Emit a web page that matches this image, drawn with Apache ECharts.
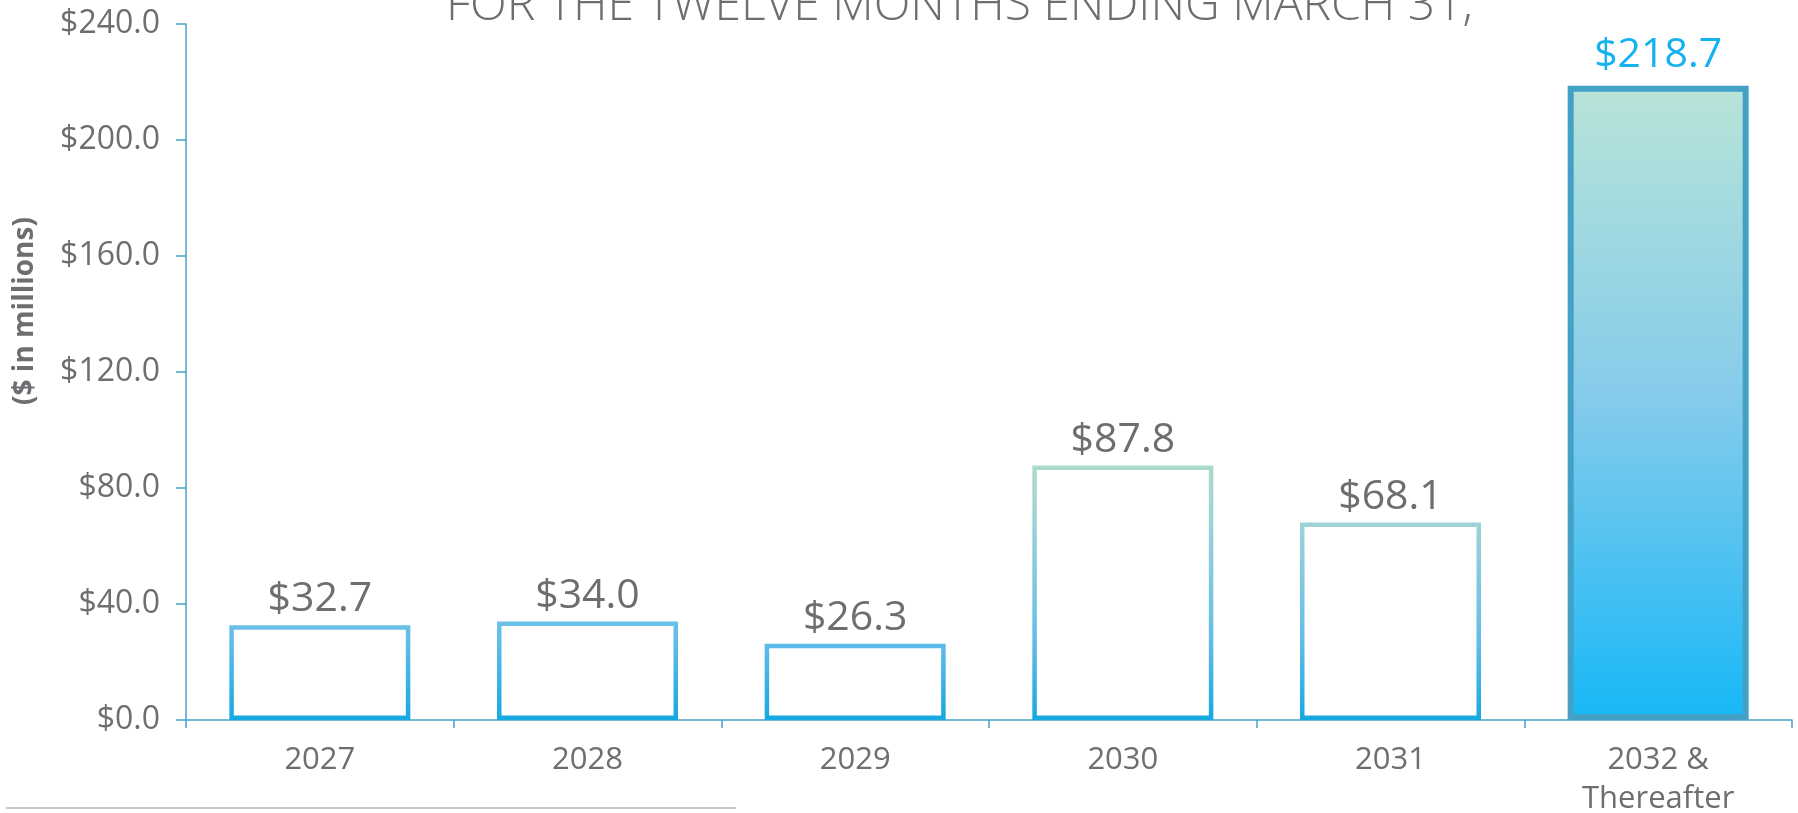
<!DOCTYPE html>
<html>
<head>
<meta charset="utf-8">
<script src="https://cdn.jsdelivr.net/npm/echarts@6/dist/echarts.min.js"></script>
<style>
html,body{margin:0;padding:0;background:#fff;}
#chart{width:1798px;height:813px;}
</style>
</head>
<body>
<div id="chart"></div>
<script>
const categories = ['2027', '2028', '2029', '2030', '2031', '2032 &\nThereafter'];
const values = [32.7, 34.0, 26.3, 87.8, 68.1, 218.7];
const yTicks = { min: 0, max: 240, interval: 40 };
const titleText = 'FOR THE TWELVE MONTHS ENDING MARCH 31,';
const yAxisTitle = '($ in millions)';

const lastIdx = values.length - 1;
const outlineData = values.map((v, i) => (i < lastIdx ? v : '-'));
const filledData = values.map((v, i) => (i === lastIdx ? v : '-'));

const gray = '#6d6e71';
const axisBlue = '#4aa3c8';
const font = "'Open Sans', 'DejaVu Sans', sans-serif";

const chart = echarts.init(document.getElementById('chart'));

const outlineGrad = new echarts.graphic.LinearGradient(0, 460, 0, 722, [
  { offset: 0, color: '#aadccb' },
  { offset: 0.22, color: '#9fd4d6' },
  { offset: 0.62, color: '#6cc0e8' },
  { offset: 0.72, color: '#5bbbe8' },
  { offset: 1, color: '#14a8e1' }
], true);

const fillGrad = new echarts.graphic.LinearGradient(0, 0, 0, 1, [
  { offset: 0, color: '#b8e4d8' },
  { offset: 0.5, color: '#84cbeb' },
  { offset: 1, color: '#17b8f7' }
]);

chart.setOption({
  animation: false,
  backgroundColor: '#fff',
  title: {
    text: titleText,
    left: 441,
    top: -23,
    textStyle: { fontFamily: font, fontSize: 48, fontWeight: 300, color: gray }
  },
  grid: { left: 186, right: 6, top: 24, bottom: 93, containLabel: false, outerBoundsMode: 'none' },
  xAxis: {
    type: 'category',
    data: categories,
    axisLine: { show: true, lineStyle: { color: axisBlue, width: 1.5 } },
    axisTick: { show: true, length: 8, alignWithLabel: false, lineStyle: { color: axisBlue, width: 1.5 } },
    axisLabel: { color: gray, fontFamily: font, fontSize: 31, lineHeight: 39, margin: 21, interval: 0 },
    splitLine: { show: false }
  },
  yAxis: {
    type: 'value',
    min: yTicks.min,
    max: yTicks.max,
    interval: yTicks.interval,
    axisLine: { show: true, lineStyle: { color: axisBlue, width: 1.5 } },
    axisTick: { show: true, length: 10, lineStyle: { color: axisBlue, width: 1.5 } },
    axisLabel: {
      color: gray, fontFamily: font, fontSize: 32, margin: 26,
      formatter: v => '$' + v.toFixed(1)
    },
    splitLine: { show: false }
  },
  series: [
    {
      type: 'bar',
      data: outlineData,
      barWidth: 181,
      barGap: '-100%',
      itemStyle: { color: '#ffffff', borderColor: outlineGrad, borderWidth: 4.5 },
      label: {
        show: true, position: 'top', distance: 5,
        color: gray, fontFamily: font, fontSize: 41,
        formatter: p => '$' + p.value.toFixed(1)
      }
    },
    {
      type: 'bar',
      data: filledData,
      barWidth: 181,
      barGap: '-100%',
      itemStyle: { color: fillGrad, borderColor: '#43a0c6', borderWidth: 6 },
      label: {
        show: true, position: 'top', distance: 10,
        color: '#16b1ef', fontFamily: font, fontSize: 41,
        formatter: p => '$' + p.value.toFixed(1)
      }
    }
  ],
  graphic: [
    {
      type: 'text',
      x: 25, y: 311,
      rotation: Math.PI / 2,
      style: {
        text: yAxisTitle, fill: gray, font: "bold 28px " + font,
        align: 'center', verticalAlign: 'middle'
      }
    },
    {
      type: 'line',
      shape: { x1: 6, y1: 808, x2: 736, y2: 808 },
      style: { stroke: '#c8c8c8', lineWidth: 2 }
    }
  ]
});
</script>
</body>
</html>
